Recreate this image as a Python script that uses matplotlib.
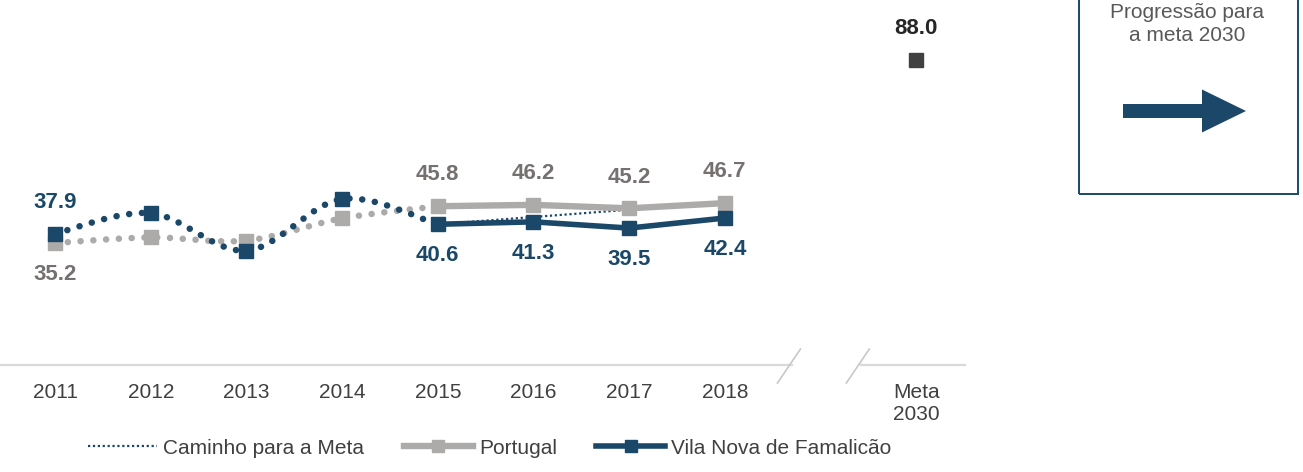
import numpy as np
import matplotlib
matplotlib.use("Agg")
import matplotlib.pyplot as plt
from matplotlib.path import Path
from matplotlib.patches import PathPatch, Rectangle, FancyArrow
from matplotlib.lines import Line2D

plt.rcParams['font.family'] = ['Liberation Sans', 'DejaVu Sans']

# ---- data ----
years = ["2011", "2012", "2013", "2014", "2015", "2016", "2017", "2018"]
portugal = [35.2, 36.8, 35.9, 42.3, 45.8, 46.2, 45.2, 46.7]
famalicao = [37.9, 43.8, 33.0, 47.9, 40.6, 41.3, 39.5, 42.4]
caminho_years = ["2015", "2016", "2017", "2018"]
caminho = [40.6, 42.7, 44.8, 46.9]
meta_label = "Meta\n2030"
meta_value = 88.0
labelled_pt = {"2011": "below", "2015": "above", "2016": "above", "2017": "above", "2018": "above"}
labelled_vnf = {"2011": "above", "2015": "below", "2016": "below", "2017": "below", "2018": "below"}

NAVY = "#1B4868"
GREY = "#ADAAAA"
GREY_TXT = "#767171"
DARK = "#404040"

fig = plt.figure(figsize=(13.03, 4.72), dpi=100)
W, H = 1303, 472
ax = fig.add_axes([0, (H - 365) / H, 965 / W, 365 / H])
ax.set_xlim(-0.575, 9.51)
ax.set_ylim(0, 105.3)
for s in ax.spines.values():
    s.set_visible(False)
ax.set_yticks([])

x = np.arange(len(years), dtype=float)
meta_x = 9.0
split = years.index("2015")


def smooth_path(xs, ys):
    """Catmull-Rom style cubic Bezier through the given points."""
    xs = np.asarray(xs, float)
    ys = np.asarray(ys, float)
    pts = np.column_stack([xs, ys])
    n = len(pts)
    verts = [pts[0]]
    codes = [Path.MOVETO]
    for i in range(n - 1):
        p0 = pts[i - 1] if i > 0 else pts[i]
        p1, p2 = pts[i], pts[i + 1]
        p3 = pts[i + 2] if i + 2 < n else pts[i + 1]
        c1 = p1 + (p2 - p0) / 6.0
        c2 = p2 - (p3 - p1) / 6.0
        verts += [c1, c2, p2]
        codes += [Path.CURVE4] * 3
    return Path(verts, codes)


dot_style = (0, (0.01, 1.95))

# dotted smoothed segments 2011-2015
for vals, col, z in [(portugal, GREY, 2), (famalicao, NAVY, 3)]:
    p = smooth_path(x[:split + 1], vals[:split + 1])
    ax.add_patch(PathPatch(p, fill=False, edgecolor=col, lw=4.7,
                           linestyle=dot_style, capstyle='round', zorder=z))

# path towards the target
cx = [years.index(y) for y in caminho_years]
ax.plot(cx, caminho, color=NAVY, lw=1.6, ls=(0, (1, 1.2)), zorder=3.5)

# solid segments 2015-2018
ax.plot(x[split:], portugal[split:], color=GREY, lw=4.6, solid_capstyle='butt', zorder=4)
ax.plot(x[split:], famalicao[split:], color=NAVY, lw=4.0, solid_capstyle='butt', zorder=5)

# markers
ax.plot(x, portugal, ls='none', marker='s', ms=10, color=GREY, zorder=6)
ax.plot(x, famalicao, ls='none', marker='s', ms=10, color=NAVY, zorder=7)
ax.plot([meta_x], [meta_value], ls='none', marker='s', ms=9.5, color=DARK, zorder=7)

# value labels
off = 22.5
LBL = 16
for yr, pos in labelled_pt.items():
    i = years.index(yr)
    ax.annotate(f"{portugal[i]:.1f}", (x[i], portugal[i]),
                xytext=(0, off if pos == "above" else -off), textcoords='offset points',
                ha='center', va='center', fontsize=LBL, fontweight='bold', color=GREY_TXT)
for yr, pos in labelled_vnf.items():
    i = years.index(yr)
    ax.annotate(f"{famalicao[i]:.1f}", (x[i], famalicao[i]),
                xytext=(0, off if pos == "above" else -off), textcoords='offset points',
                ha='center', va='center', fontsize=LBL, fontweight='bold', color=NAVY)
ax.annotate(f"{meta_value:.1f}", (meta_x, meta_value), xytext=(0, 22.5),
            textcoords='offset points', ha='center', va='center',
            fontsize=LBL, fontweight='bold', color="#262626")

# category axis with a break before the target
AX_COL = "#D9D9D9"
b1, b2 = 7.70, 8.42
ax.plot([-0.575, b1], [0, 0], color=AX_COL, lw=1.6, clip_on=False, zorder=1)
ax.plot([b2, 9.51], [0, 0], color=AX_COL, lw=1.6, clip_on=False, zorder=1)
for bx in (b1 - 0.03, b2 - 0.03):
    ax.plot([bx - 0.12, bx + 0.12], [-5.2, 4.6], color="#C8C8C8", lw=1.2,
            clip_on=False, zorder=1)

ax.set_xticks(list(x) + [meta_x])
ax.set_xticklabels(years + [meta_label], fontsize=15, color="#404040",
                   linespacing=1.2)
ax.tick_params(axis='x', length=0, pad=13)

# legend
handles = [
    Line2D([], [], color=NAVY, lw=1.6, ls=(0, (1, 1.2))),
    Line2D([], [], color=GREY, lw=4.6, marker='s', ms=8),
    Line2D([], [], color=NAVY, lw=4.0, marker='s', ms=8),
]
fig.legend(handles, ["Caminho para a Meta", "Portugal", "Vila Nova de Famalicão"],
           loc='center', bbox_to_anchor=(490 / W, 1 - 448 / H), ncol=3, frameon=False,
           fontsize=15, handlelength=3.3, handletextpad=0.3, columnspacing=1.9,
           labelcolor="#404040")

# side note box
bx0, bx1, by1 = 1078.5, 1297.5, 193.5
fig.patches.append(Rectangle((bx0 / W, 1 - by1 / H), (bx1 - bx0) / W, (by1 + 10) / H,
                             transform=fig.transFigure, fill=False,
                             edgecolor=NAVY, lw=1.4))
fig.text(1187 / W, 1 - 24 / H, "Progressão para\na meta 2030", ha='center', va='center',
         fontsize=15, color="#595959", linespacing=1.25)
fig.patches.append(FancyArrow(1123 / W, 1 - 111 / H, (1246 - 1123) / W, 0,
                              width=14 / H, head_width=43 / H, head_length=44 / W,
                              length_includes_head=True, transform=fig.transFigure,
                              color=NAVY, lw=0))

fig.savefig("out.png", dpi=100)
